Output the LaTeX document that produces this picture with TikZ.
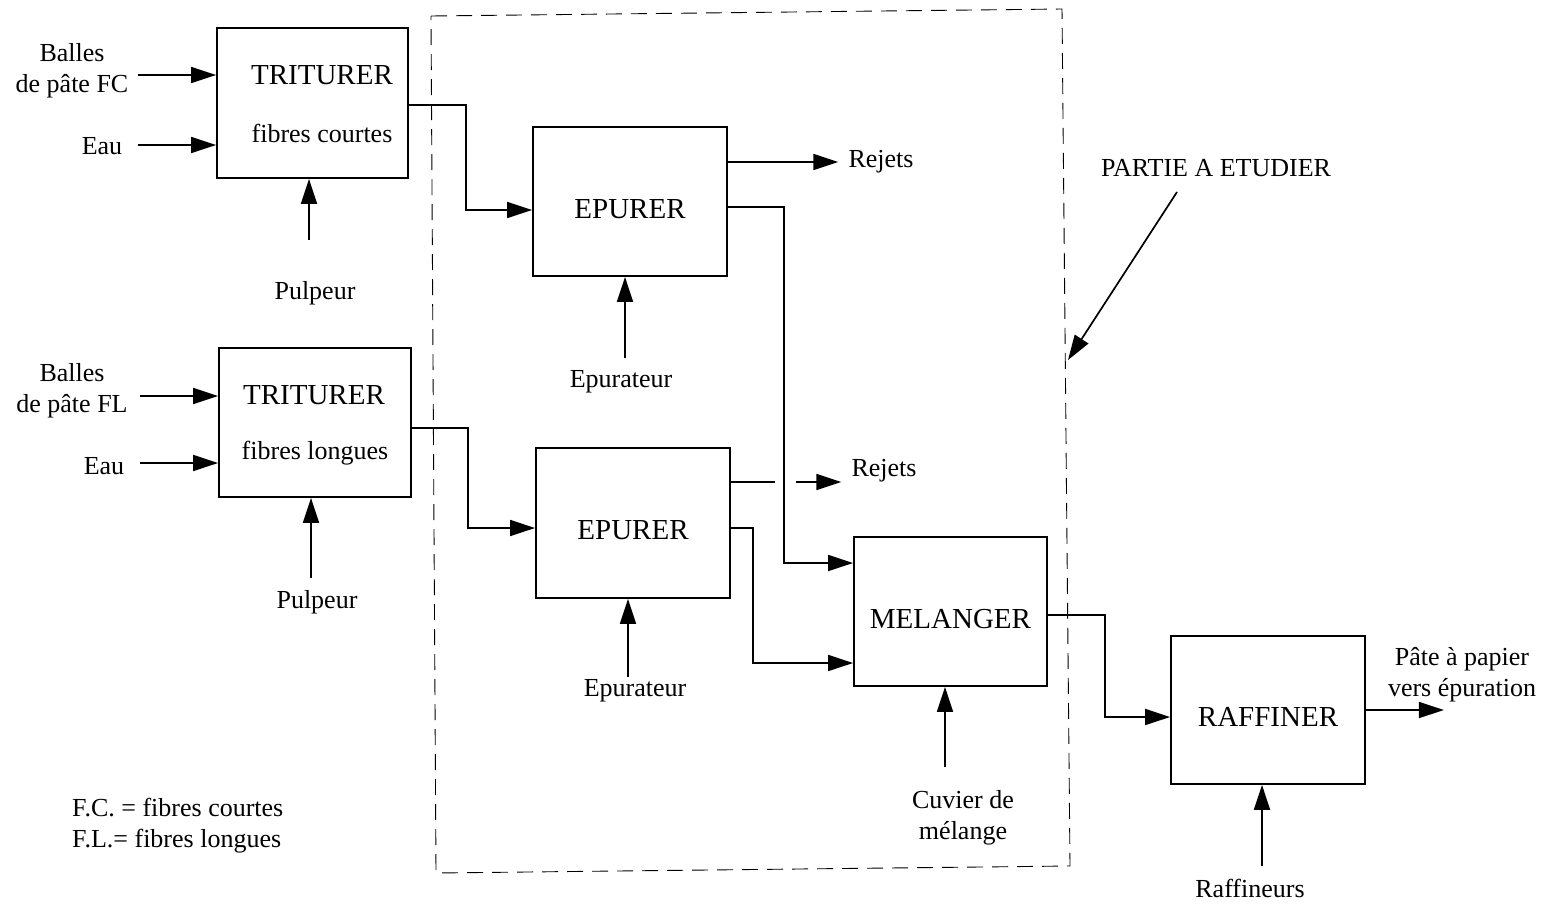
\documentclass[tikz,border=0pt]{standalone}
\usepackage{fontspec}
\setmainfont{Liberation Serif}
\usetikzlibrary{arrows.meta}

\begin{document}
\begin{tikzpicture}[x=1pt,y=-1pt,
  box/.style={draw,line width=1.8pt,minimum width=#1,minimum height=149pt,inner sep=0pt,
    text height=33pt,text depth=0pt,font=\fontsize{29}{34}\selectfont},
  box/.default=194pt,
  ttl/.style={inner sep=0pt,font=\fontsize{29}{34}\selectfont},
  lbl/.style={inner sep=0pt,align=center,font=\fontsize{26}{31}\selectfont},
  flow/.style={line width=1.7pt,-{Triangle[length=25pt,width=16pt]}},
  link/.style={line width=1.7pt},
  zone/.style={line width=0.9pt,dash pattern=on 16pt off 9pt}]
  \useasboundingbox (0,0) rectangle (1547,905);

  % zone under study
  \draw[zone] (431,16) -- (1062,9) -- (1070,866) -- (436,873) -- cycle;

  % process boxes
  \node[box=191pt,minimum height=150pt] (tfc) at (312.5,103) {};
  \node[ttl] (tfcA) at (322,75) {TRITURER};
  \node[lbl] (tfcB) at (322,133) {fibres courtes};
  \node[box=192pt] (tfl) at (315,422.5) {};
  \node[ttl] (tflA) at (314,395) {TRITURER};
  \node[lbl] (tflB) at (315,453) {fibres longues};
  \node[box] (ep1) at (630,201.5) {EPURER};
  \node[box,minimum height=150pt] (ep2) at (633,523) {EPURER};
  \node[box=193pt] (mel) at (950.5,611.5) {MELANGER};
  \node[box,minimum height=148pt] (raf) at (1268,710) {RAFFINER};

  % labels
  \node[lbl] (bfc) at (72,71) {Balles\\de pâte FC};
  \node[lbl] (efc) at (102,146) {Eau};
  \node[lbl] (pfc) at (315,293) {Pulpeur};
  \node[lbl] (bfl) at (72,391) {Balles\\de pâte FL};
  \node[lbl] (efl) at (104,466) {Eau};
  \node[lbl] (pfl) at (317,602) {Pulpeur};
  \node[lbl] (rj1) at (881,162) {Rejets};
  \node[lbl] (rj2) at (884,471) {Rejets};
  \node[lbl] (ur1) at (621,382) {Epurateur};
  \node[lbl] (ur2) at (635,691) {Epurateur};
  \node[lbl] (cuv) at (963,818) {Cuvier de\\mélange};
  \node[lbl] (rfs) at (1250,888) {Raffineurs};
  \node[lbl] (out) at (1462,675) {Pâte à papier\\vers épuration};
  \node[lbl] (part) at (1216,168) {PARTIE A ETUDIER};
  \node[lbl,anchor=west,align=left] (leg) at (72,826) {F.C. = fibres courtes\\F.L.= fibres longues};

  % free ends
  \coordinate (bfcT) at (138,75);
  \coordinate (efcT) at (138,145);
  \coordinate (pfcT) at (309,240);
  \coordinate (bflT) at (140,396);
  \coordinate (eflT) at (140,463);
  \coordinate (pflT) at (311,578);
  \coordinate (ur1T) at (625,358);
  \coordinate (ur2T) at (628,677);
  \coordinate (cuvT) at (945,767);
  \coordinate (rfsT) at (1262,866);
  \coordinate (rj2A) at (775,482);
  \coordinate (rj2B) at (796,482);
  \coordinate (partT) at (1177,192);
  \coordinate (partH) at (1068,360);

  % feeds
  \draw[flow] (bfcT) -- (bfcT -| tfc.west);
  \draw[flow] (efcT) -- (efcT -| tfc.west);
  \draw[flow] (pfcT) -- (pfcT |- tfc.south);
  \draw[flow] (bflT) -- (bflT -| tfl.west);
  \draw[flow] (eflT) -- (eflT -| tfl.west);
  \draw[flow] (pflT) -- (pflT |- tfl.south);
  \draw[flow] (ur1T) -- (ur1T |- ep1.south);
  \draw[flow] (ur2T) -- (ur2T |- ep2.south);
  \draw[flow] (cuvT) -- (cuvT |- mel.south);
  \draw[flow] (rfsT) -- (rfsT |- raf.south);

  % main line
  \draw[flow] ([yshift=-2pt]tfc.east) -- ++(57,0) |- ([yshift=-8.5pt]ep1.west);
  \draw[flow] ([yshift=-5.5pt]tfl.east) -- ++(56,0) |- ([yshift=-5pt]ep2.west);
  \draw[flow] ([yshift=39.5pt]ep1.east) -- ([xshift=-10pt]rj1.west);
  \draw[flow] ([yshift=-5.5pt]ep1.east) -- ++(56,0) |- ([yshift=48.5pt]mel.west);
  \draw[link] ([yshift=41pt]ep2.east) -- (rj2A);
  \draw[flow] (rj2B) -- ([xshift=-10pt,yshift=-11pt]rj2.west);
  \draw[flow] ([yshift=-5pt]ep2.east) -- ++(22,0) |- ([yshift=-51.5pt]mel.west);
  \draw[flow] ([yshift=-3.5pt]mel.east) -- ++(57,0) |- ([yshift=-7pt]raf.west);
  \draw[flow] (raf.east) -- ++(78,0);
  \draw[flow] (partT) -- (partH);
\end{tikzpicture}
\end{document}
